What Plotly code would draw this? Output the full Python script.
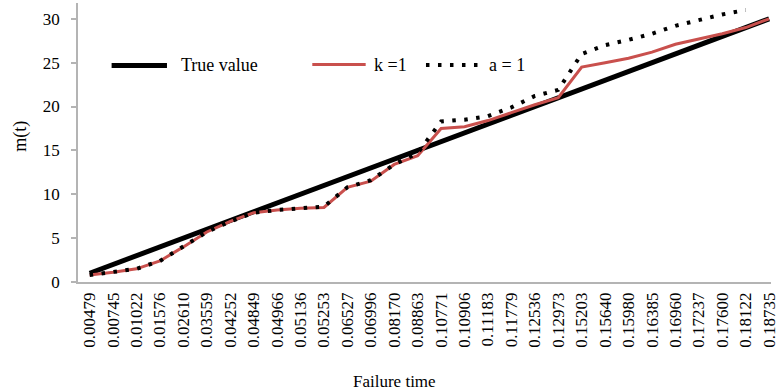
import plotly.graph_objects as go

# Failure times (category axis labels)
failure_times = [
    "0.00479", "0.00745", "0.01022", "0.01576", "0.02610", "0.03559",
    "0.04252", "0.04849", "0.04966", "0.05136", "0.05253", "0.06527",
    "0.06996", "0.08170", "0.08863", "0.10771", "0.10906", "0.11183",
    "0.11779", "0.12536", "0.12973", "0.15203", "0.15640", "0.15980",
    "0.16385", "0.16960", "0.17237", "0.17600", "0.18122", "0.18735",
]

# Cumulative failures m(t)
true_value = [1, 2, 3, 4, 5, 6, 7, 8, 9, 10, 11, 12, 13, 14, 15,
              16, 17, 18, 19, 20, 21, 22, 23, 24, 25, 26, 27, 28, 29, 30]
k_eq_1 = [0.8, 1.1, 1.5, 2.4, 4.0, 5.7, 6.9, 7.9, 8.2, 8.4, 8.5, 10.8,
          11.5, 13.4, 14.4, 17.5, 17.7, 18.4, 19.3, 20.2, 21.0, 24.5,
          25.0, 25.5, 26.2, 27.1, 27.7, 28.3, 29.0, 30.0]
a_eq_1 = [0.8, 1.1, 1.5, 2.4, 4.0, 5.7, 6.9, 7.9, 8.2, 8.4, 8.6, 10.8,
          11.6, 13.4, 14.7, 18.3, 18.5, 18.9, 19.9, 21.2, 21.9, 26.0,
          27.0, 27.6, 28.3, 29.2, 29.9, 30.5, 31.0, None]

y_ticks = [0, 5, 10, 15, 20, 25, 30]

SERIF = "Liberation Serif, Times New Roman, serif"
AXIS_GRAY = "#b4b4b4"
RED = "#c9504d"
DOTS = "3.5px,8.5px"

W, H = 779, 392
L, R, T, B = 78, 0, 3, 110

fig = go.Figure()
fig.add_trace(go.Scatter(x=failure_times, y=true_value, mode="lines",
                         line=dict(color="black", width=5),
                         name="True value", showlegend=False))
fig.add_trace(go.Scatter(x=failure_times, y=k_eq_1, mode="lines",
                         line=dict(color=RED, width=3),
                         name="k =1", showlegend=False))
fig.add_trace(go.Scatter(x=failure_times, y=a_eq_1, mode="lines",
                         line=dict(color="black", width=4, dash=DOTS),
                         name="a = 1", showlegend=False))

# Legend drawn inside the plot area (pixel positions converted to paper units)
pw, ph = W - L - R, H - T - B


def px_x(v):
    return (v - L) / pw


def px_y(v):
    return (H - B - v) / ph


legend_items = [
    (112, 168, 65.5, dict(color="black", width=5), "True value", 180),
    (315, 369, 64.5, dict(color=RED, width=3), "k =1", 375),
    (430, 486, 65.0, dict(color="black", width=4, dash=DOTS), "a = 1", 492),
]
for x0, x1, yy, ln, label, tx in legend_items:
    fig.add_shape(type="line", xref="paper", yref="paper",
                  x0=px_x(x0), x1=px_x(x1), y0=px_y(yy), y1=px_y(yy), line=ln)
    fig.add_annotation(xref="paper", yref="paper", x=px_x(tx), y=px_y(yy),
                       text=label, showarrow=False, xanchor="left", yanchor="middle",
                       font=dict(family=SERIF, size=18, color="black"))

# Axis titles
fig.add_annotation(xref="paper", yref="paper", x=px_x(20), y=px_y(136),
                   text="m(t)", textangle=-90, showarrow=False,
                   xanchor="center", yanchor="middle",
                   font=dict(family=SERIF, size=18, color="black"))
fig.add_annotation(xref="paper", yref="paper", x=px_x(398), y=px_y(381),
                   text="Failure time", showarrow=False,
                   xanchor="center", yanchor="middle",
                   font=dict(family=SERIF, size=17, color="black"))

fig.update_layout(
    width=W, height=H,
    margin=dict(l=L, r=R, t=T, b=B, pad=0),
    paper_bgcolor="white", plot_bgcolor="white",
    showlegend=False,
    xaxis=dict(type="category", range=[-0.498, 29.08],
               showline=True, linecolor=AXIS_GRAY, linewidth=1.5,
               showgrid=False, zeroline=False, ticks="",
               tickangle=-90, ticklabelstandoff=2,
               tickfont=dict(family=SERIF, size=17, color="black")),
    yaxis=dict(range=[0, 31.8], tickvals=y_ticks,
               showline=True, linecolor=AXIS_GRAY, linewidth=1.5,
               showgrid=False, zeroline=False,
               ticks="outside", ticklen=5, tickcolor=AXIS_GRAY, tickwidth=1.5,
               ticklabelstandoff=8,
               tickfont=dict(family=SERIF, size=17, color="black")),
)

fig.write_html("out.html")
